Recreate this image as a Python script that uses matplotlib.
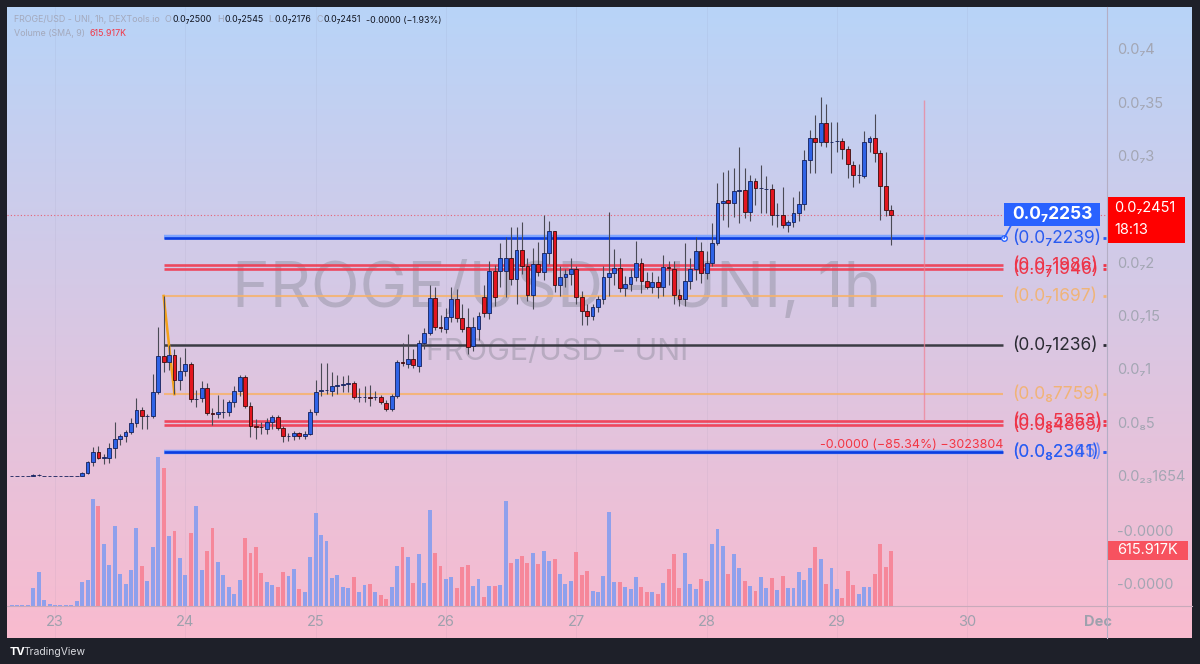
import numpy as np
import matplotlib
matplotlib.use("Agg")
import matplotlib.pyplot as plt
from matplotlib.patches import Rectangle
from matplotlib.lines import Line2D
from matplotlib.transforms import blended_transform_factory

plt.rcParams['font.family'] = ['Inter', 'DejaVu Sans']

# hours since Nov 23 00:00, one candle per hour (1h chart)
hours = list(range(-8, 155))

# prices in units of 1e-8 USD (0.0₇1 == 1.0)
opens = [.01, .01, .01, .01, .005, .015, .01, .01, .01, .01,
         .01, .01, .01, .01, .04, .14, .23, .18, .18, .27,
         .36, .38, .42, .51, .63, .57, .57, .80, 1.13, 1.08,
         1.14, .91, .99, 1.06, .73, .74, .83, .60, .59, .61,
         .61, .70, .81, .94, .67, .48, .47, .45, .52, .56,
         .46, .38, .38, .41, .38, .40, .61, .81, .82, .81,
         .85, .86, .87, .88, .75, .75, .75, .75, .75, .69,
         .64, .76, 1.08, 1.06, 1.11, 1.04, 1.26, 1.35, 1.68, 1.41,
         1.39, 1.50, 1.67, 1.49, 1.41, 1.23, 1.39, 1.69, 1.54, 1.93,
         1.93, 1.93, 2.05, 1.86, 2.13, 1.98, 1.71, 2.00, 1.92, 2.10,
         2.31, 1.80, 1.87, 1.90, 1.95, 1.69, 1.56, 1.51, 1.59, 1.67,
         1.87, 1.91, 1.96, 1.77, 1.81, 1.87, 2.01, 1.84, 1.78, 1.83,
         1.78, 1.97, 1.95, 1.71, 1.67, 1.84, 1.95, 2.12, 1.91, 2.01,
         2.19, 2.57, 2.60, 2.57, 2.68, 2.69, 2.48, 2.77, 2.71, 2.70,
         2.70, 2.46, 2.46, 2.36, 2.39, 2.47, 2.56, 2.97, 3.18, 3.14,
         3.32, 3.14, 3.15, 3.15, 3.07, 2.92, 2.83, 2.82, 3.14, 3.18,
         3.04, 2.73, 2.50]
highs = [.01, .01, .01, .01, .025, .03, .01, .01, .01, .01,
         .01, .01, .01, .05, .15, .28, .29, .22, .32, .52,
         .40, .44, .55, .74, .66, .59, .97, 1.41, 1.697, 1.24,
         1.20, 1.12, 1.21, 1.08, .82, .90, .88, .65, .77, .73,
         .72, .85, .96, .96, .70, .54, .52, .55, .58, .58,
         .48, .41, .43, .42, .43, .64, .91, 1.07, 1.07, .98,
         .96, .95, .96, .90, .83, .85, .86, .81, .77, .72,
         .78, 1.10, 1.26, 1.34, 1.20, 1.28, 1.40, 1.80, 1.78, 1.52,
         1.58, 1.78, 1.76, 1.62, 1.58, 1.50, 1.55, 1.80, 2.02, 1.99,
         2.19, 2.25, 2.34, 2.34, 2.39, 2.05, 2.15, 2.20, 2.46, 2.40,
         2.31, 1.98, 1.95, 2.05, 1.98, 1.74, 1.62, 1.62, 1.70, 1.98,
         2.48, 2.14, 2.05, 1.88, 1.95, 2.21, 2.05, 1.92, 1.92, 1.88,
         2.08, 2.02, 2.02, 1.76, 2.19, 2.05, 2.25, 2.20, 2.12, 2.38,
         2.76, 2.86, 2.88, 2.90, 3.09, 2.90, 2.83, 2.80, 2.92, 2.82,
         2.75, 2.57, 2.72, 2.41, 2.62, 2.68, 3.06, 3.25, 3.39, 3.56,
         3.50, 3.33, 3.33, 3.18, 3.10, 2.96, 2.93, 3.24, 3.20, 3.40,
         3.06, 3.05, 2.545]
lows = [.01, .01, .01, .01, .005, .01, .01, .01, .01, .01,
        .01, .01, .01, .01, .03, .10, .17, .12, .13, .18,
        .30, .33, .40, .47, .45, .45, .55, .78, .98, 1.00,
        .776, .82, .95, .70, .66, .70, .58, .49, .55, .55,
        .57, .66, .76, .65, .375, .36, .40, .40, .45, .44,
        .33, .34, .35, .36, .36, .39, .58, .76, .78, .76,
        .78, .80, .80, .73, .70, .70, .67, .72, .68, .62,
        .62, .74, 1.04, 1.02, 1.02, .98, 1.20, 1.33, 1.38, 1.36,
        1.35, 1.45, 1.45, 1.36, 1.15, 1.18, 1.28, 1.50, 1.48, 1.60,
        1.78, 1.69, 1.80, 1.62, 1.90, 1.65, 1.57, 1.88, 1.85, 2.00,
        1.73, 1.70, 1.78, 1.80, 1.62, 1.42, 1.42, 1.47, 1.55, 1.62,
        1.70, 1.80, 1.73, 1.70, 1.74, 1.84, 1.72, 1.76, 1.72, 1.68,
        1.70, 1.80, 1.62, 1.60, 1.60, 1.76, 1.85, 1.82, 1.86, 1.98,
        2.17, 2.41, 2.34, 2.44, 2.38, 2.43, 2.40, 2.55, 2.47, 2.47,
        2.36, 2.34, 2.33, 2.30, 2.34, 2.40, 2.50, 2.85, 2.85, 3.10,
        3.09, 2.85, 3.05, 2.98, 2.80, 2.72, 2.76, 2.80, 3.05, 2.95,
        2.41, 2.45, 2.176]
closes = [.01, .01, .01, .01, .02, .016, .01, .01, .01, .01,
          .01, .01, .01, .04, .14, .23, .18, .185, .27, .36,
          .38, .42, .51, .63, .57, .575, .80, 1.13, 1.08, 1.14,
          .91, .99, 1.06, .73, .735, .83, .60, .595, .61, .61,
          .70, .81, .94, .67, .48, .47, .465, .52, .56, .46,
          .38, .38, .41, .38, .40, .61, .80, .82, .82, .85,
          .86, .87, .88, .75, .75, .75, .745, .75, .70, .64,
          .76, 1.08, 1.07, 1.11, 1.05, 1.26, 1.35, 1.68, 1.41, 1.40,
          1.50, 1.67, 1.49, 1.39, 1.22, 1.41, 1.51, 1.54, 1.93, 1.69,
          2.05, 2.05, 1.86, 2.13, 1.98, 1.71, 2.00, 1.92, 2.10, 2.31,
          1.80, 1.87, 1.90, 1.95, 1.69, 1.56, 1.51, 1.59, 1.67, 1.87,
          1.91, 1.96, 1.77, 1.81, 1.87, 2.01, 1.84, 1.78, 1.83, 1.78,
          1.97, 1.96, 1.71, 1.67, 1.84, 1.95, 2.12, 1.91, 2.01, 2.19,
          2.57, 2.59, 2.57, 2.68, 2.69, 2.48, 2.77, 2.71, 2.71, 2.70,
          2.46, 2.46, 2.36, 2.39, 2.47, 2.56, 2.97, 3.18, 3.14, 3.32,
          3.14, 3.14, 3.15, 3.07, 2.93, 2.83, 2.835, 3.14, 3.18, 3.04,
          2.73, 2.50, 2.451]
# volume, relative units
volumes = [1, 1, 1, 1, 18, 34, 6, 2, 1, 1,
           1, 1, 5, 24, 26, 107, 100, 62, 41, 80,
           32, 22, 36, 78, 40, 25, 59, 149, 138, 70,
           75, 48, 31, 73, 100, 36, 55, 78, 44, 31,
           19, 12, 26, 68, 53, 59, 33, 24, 21, 19,
           34, 30, 37, 17, 14, 49, 93, 71, 65, 28,
           31, 19, 18, 29, 14, 21, 22, 14, 11, 7,
           19, 40, 59, 49, 23, 52, 23, 96, 53, 40,
           27, 29, 18, 39, 41, 20, 27, 9, 20, 20,
           21, 105, 43, 47, 50, 43, 53, 42, 55, 45,
           47, 32, 22, 25, 54, 31, 35, 15, 14, 30,
           94, 24, 24, 19, 17, 29, 19, 14, 14, 12,
           23, 37, 52, 18, 53, 22, 17, 27, 25, 62,
           77, 60, 32, 52, 38, 25, 20, 15, 29, 18,
           28, 16, 30, 18, 18, 34, 26, 38, 59, 47,
           22, 38, 17, 8, 35, 21, 12, 19, 19, 32,
           62, 39, 55]

# drawn horizontal levels
blue_levels = [2.253, 2.239, 0.2365, 0.2341]
red_levels = [1.986, 1.946, 0.5253, 0.4865]
orange_levels = [1.697, 0.7759]
black_levels = [1.236]
level_start, level_end = 20, 174.5
fib_swing = ([20, 22], [1.697, 0.7759])
last_price = 2.451
measure_hour, measure_top, measure_bottom = 160, 3.53, 0.53

price_ticks = [4, 3.5, 3, 2, 1.5, 1, 0.5, 0]
price_tick_labels = ['0.0₇4', '0.0₇35', '0.0₇3', '0.0₇2', '0.0₇15', '0.0₇1', '0.0₈5', '0.0₂₃1654']
day_hours = [0, 24, 48, 72, 96, 120, 144, 168, 192]
day_labels = ['23', '24', '25', '26', '27', '28', '29', '30', 'Dec']

W, H = 1200, 664
def fx(px): return px / W
def fy(py): return 1 - py / H

fig = plt.figure(figsize=(12, 6.64), dpi=100, facecolor='#1e2029')
rect = [fx(7), fy(638), fx(1192) - fx(7), fy(7) - fy(638)]
xlim = ((7 - 55) / 5.43, (1192 - 55) / 5.43)

# background + volume
axv = fig.add_axes(rect)
grad = np.linspace(0, 1, 256)[:, None]
top_c = np.array([184, 212, 248]) / 255
bot_c = np.array([249, 187, 207]) / 255
img = top_c[None, None, :] * (1 - grad[:, :, None]) + bot_c[None, None, :] * grad[:, :, None]
axv.imshow(img, extent=[0, 1, 0, 1], transform=axv.transAxes, aspect='auto', zorder=0)
x = np.array(hours, dtype=float)
o = np.array(opens); hi = np.array(highs); lo = np.array(lows); c = np.array(closes)
vol = np.array(volumes, dtype=float)
up = c >= o
axv.bar(x[up], vol[up], width=0.72, color='#8fa0ec', zorder=2)
axv.bar(x[~up], vol[~up], width=0.72, color='#f6879a', zorder=2)
axv.set_xlim(*xlim)
axv.set_ylim(-32, 599)
axv.axis('off')
for d in day_hours[:-1]:
    axv.axvline(d, color='#8080a0', lw=0.5, alpha=0.12, zorder=1)

# price
ax = fig.add_axes(rect, facecolor='none')
ax.set_xlim(*xlim)
ax.set_ylim((477 - 638) / 106.7, (477 - 7) / 106.7)
ax.axis('off')

ax.text(fx(557), fy(290), 'FROGE/USD - UNI, 1h', transform=fig.transFigure, fontsize=46,
        color='#787b86', alpha=0.35, ha='center', va='center', zorder=1)
ax.text(fx(557), fy(352), 'FROGE/USD - UNI', transform=fig.transFigure, fontsize=22,
        color='#787b86', alpha=0.35, ha='center', va='center', zorder=1)

ax.hlines(last_price, xlim[0], (1107 - 55) / 5.43, color='#f23645', lw=0.8,
          linestyles=(0, (1, 2)), alpha=0.7, zorder=2)

# drawn levels sit under the candles
ax.hlines(blue_levels[0::2], level_start, level_end, color='#7fa5ff', lw=3.2, zorder=2.5)
ax.hlines(blue_levels[1::2], level_start, level_end, color='#0b3de0', lw=1.9, zorder=2.6)
ax.hlines(red_levels, level_start, level_end, color='#f03a50', lw=1.9, alpha=0.9, zorder=2.5)
ax.hlines(orange_levels, level_start, level_end, color='#f7b26b', lw=1.5, alpha=0.85, zorder=2.5)
ax.hlines(black_levels, level_start, level_end, color='#3b3c44', lw=1.8, zorder=2.5)
ax.plot(*fib_swing, color='#f5a21a', lw=1.8, zorder=2.7)

ax.vlines(x, lo, hi, color='#4a4a55', lw=0.8, zorder=3)
bb = np.minimum(o, c); bh = np.abs(c - o)
ax.bar(x[up], bh[up], bottom=bb[up], width=0.7, color='#2f63e6', edgecolor='#14205a', lw=0.6, zorder=4)
ax.bar(x[~up], bh[~up], bottom=bb[~up], width=0.7, color='#e3161f', edgecolor='#3a0c0c', lw=0.6, zorder=4)

lab_x = (1012 - 55) / 5.43
stub_x = ((1103 - 55) / 5.43, (1106 - 55) / 5.43)
def level_label(v, col, alpha=1.0):
    if v < 1:
        s = '(0.0₈' + f'{v:.4f}'[2:] + ')'
    else:
        s = '(0.0₇' + f'{v:.3f}'.replace('.', '') + ')'
    ax.text(lab_x, v, s, color=col, alpha=alpha, fontsize=12.5, va='center', ha='left', zorder=6)
    ax.hlines(v, *stub_x, color=col, lw=2, alpha=alpha, zorder=6)

level_label(blue_levels[1], '#2a5bf0')
level_label(blue_levels[2], '#4f7dff', 0.8)
level_label(blue_levels[3], '#2a5bf0')
for v in red_levels:
    level_label(v, '#ee3448')
for v in orange_levels:
    level_label(v, '#f3b26c', 0.9)
for v in black_levels:
    level_label(v, '#2a2b33')

ax.vlines(measure_hour, measure_bottom, measure_top, color='#f07f92', lw=1, alpha=0.7, zorder=5)
ax.text((912 - 55) / 5.43, (477 - 445) / 106.7, '-0.0000 (−85.34%) −3023804', color='#f23645',
        fontsize=9, ha='center', va='center', zorder=6)

# selected-line callout
ax.plot([level_end + 0.3], [blue_levels[1]], marker='o', ms=4, mfc='white', mec='#2962ff', mew=1, zorder=7)
ax.plot([level_end + 0.3, level_end + 1.5], [blue_levels[1], (477 - 226) / 106.7], color='#2962ff', lw=1.2, zorder=7)
fig.add_artist(Rectangle((fx(1004), fy(226)), fx(96), 23 / H, fc='#2962ff', ec='none'))
fig.text(fx(1052), fy(214), '0.0₇2253', color='white', fontsize=12.5, fontweight='bold', ha='center', va='center')

# axis separators
fig.add_artist(Line2D([fx(1107), fx(1107)], [fy(7), fy(638)], color='#b4aec4', lw=0.8))
fig.add_artist(Line2D([fx(7), fx(1192)], [fy(606), fy(606)], color='#c8aabb', lw=0.8))

# price scale
tp = blended_transform_factory(fig.transFigure, ax.transData)
for v, s in zip(price_ticks, price_tick_labels):
    ax.text(fx(1117), v, s, transform=tp, color='#a3a6b3', fontsize=10.5, va='center', ha='left')
fig.add_artist(Rectangle((fx(1108), fy(243)), fx(77), 46 / H, fc='#ff0000', ec='none'))
fig.text(fx(1114), fy(208), '0.0₇2451', color='white', fontsize=10.5, va='center')
fig.text(fx(1114), fy(230), '18:13', color='white', fontsize=10.5, va='center')

tv = blended_transform_factory(fig.transFigure, axv.transData)
for v in [74, 21]:
    axv.text(fx(1117), v, '-0.0000', transform=tv, color='#a3a6b3', fontsize=10.5, va='center', ha='left')
fig.add_artist(Rectangle((fx(1108), fy(560)), fx(80), 19 / H, fc='#f7525f', ec='none'))
fig.text(fx(1148), fy(550.5), '615.917K', color='white', fontsize=10.5, ha='center', va='center')

# time scale
tt = blended_transform_factory(ax.transData, fig.transFigure)
for d, s in zip(day_hours, day_labels):
    ax.text(d, fy(622), s, transform=tt, color='#9ea1ad', fontsize=10.5, ha='center', va='center',
            fontweight='bold' if s == 'Dec' else 'normal')

# header, laid out piece by piece
renderer = fig.canvas.get_renderer()
def header_line(py, pieces):
    cur = 14
    for s, col, gap in pieces:
        t = fig.text(fx(cur), fy(py), s, color=col, fontsize=6.4, va='center', ha='left')
        cur += t.get_window_extent(renderer).width + gap

grey, dark = '#a4a9bc', '#131722'
header_line(20, [('FROGE/USD - UNI, 1h, DEXTools.io', grey, 5), ('O', grey, 1), ('0.0₇2500', dark, 5),
                 ('H', grey, 1), ('0.0₇2545', dark, 5), ('L', grey, 1), ('0.0₇2176', dark, 5),
                 ('C', grey, 1), ('0.0₇2451', dark, 5), ('-0.0000 (−1.93%)', dark, 0)])
header_line(33, [('Volume (SMA, 9)', grey, 5), ('615.917K', '#f23645', 0)])

fig.text(fx(10), fy(652), 'TV', color='white', fontsize=8, fontweight='bold', va='center')
fig.text(fx(24), fy(652), 'TradingView', color='#d8d9de', fontsize=7.5, va='center')

fig.savefig('out.png', dpi=100, facecolor=fig.get_facecolor())
